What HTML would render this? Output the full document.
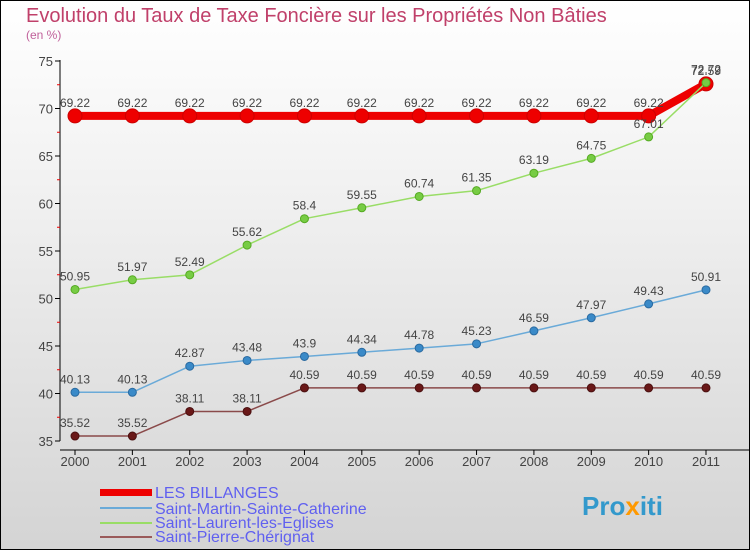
<!DOCTYPE html>
<html><head><meta charset="utf-8"><style>
body{margin:0}
#c{width:750px;height:550px;position:relative;overflow:hidden;font-family:"Liberation Sans",sans-serif;background:linear-gradient(#ffffff,#f3f3f3 30%,#d4d4d4);box-sizing:border-box;border:1px solid #000}
</style></head><body>
<div id="c">
<svg width="750" height="550" style="position:absolute;left:-1px;top:-1px" id="svg">
<text x="26" y="22" font-size="20" fill="#c0406a">Evolution du Taux de Taxe Foncière sur les Propriétés Non Bâties</text>
<text x="26" y="39" font-size="12" fill="#c0609a">(en %)</text>
<line x1="60" y1="60" x2="60" y2="441" stroke="#000"/>
<line x1="60" y1="450" x2="750" y2="450" stroke="#000"/>
<g id="axes"></g><g id="series"></g>
<g font-size="16" fill="#6060f0">
<rect x="100" y="489" width="52" height="7" fill="#e00"/>
<text x="155" y="498">LES BILLANGES</text>
<line x1="100" y1="508" x2="152" y2="508" stroke="#6aaad8" stroke-width="2"/>
<text x="155" y="514">Saint-Martin-Sainte-Catherine</text>
<line x1="100" y1="523" x2="152" y2="523" stroke="#99dd66" stroke-width="2"/>
<text x="155" y="528">Saint-Laurent-les-Eglises</text>
<line x1="100" y1="537" x2="152" y2="537" stroke="#9a5a5a" stroke-width="2"/>
<text x="155" y="542">Saint-Pierre-Chérignat</text>
</g>
<text x="582" y="515" font-size="26" font-weight="bold" fill="#3399cc">Pro<tspan fill="#ff9900">x</tspan>iti</text>
</svg>
</div>
<script>
const years=[2000,2001,2002,2003,2004,2005,2006,2007,2008,2009,2010,2011];
const billanges=[69.22,69.22,69.22,69.22,69.22,69.22,69.22,69.22,69.22,69.22,69.22,72.59];
const stMartin=[40.13,40.13,42.87,43.48,43.9,44.34,44.78,45.23,46.59,47.97,49.43,50.91];
const stLaurent=[50.95,51.97,52.49,55.62,58.4,59.55,60.74,61.35,63.19,64.75,67.01,72.72];
const stPierre=[35.52,35.52,38.11,38.11,40.59,40.59,40.59,40.59,40.59,40.59,40.59,40.59];
const yTicks=[35,40,45,50,55,60,65,70,75];
const NS='http://www.w3.org/2000/svg';
const x=i=>75+i*(631/(years.length-1));
const y=v=>61+(75-v)*9.5;
function mk(t,a,p){const e=document.createElementNS(NS,t);for(const k in a)e.setAttribute(k,a[k]);p.appendChild(e);return e;}
const ax=document.getElementById('axes');
yTicks.forEach(v=>{
 const l=mk('line',{x1:55,x2:60,y1:y(v),y2:y(v),stroke:'#000'},ax);
 
 
 const t=mk('text',{x:53,y:y(v)+5,'font-size':13,fill:'#444','text-anchor':'end'},ax);t.textContent=v;
 
 
 if(v<75){const m=mk('line',{x1:57,x2:60,y1:y(v+2.5),y2:y(v+2.5),stroke:'#e00'},ax);
 
 }
});
years.forEach((yr,i)=>{
 const l=mk('line',{x1:x(i),x2:x(i),y1:450,y2:455,stroke:'#000'},ax);
 
 
 const t=mk('text',{x:x(i),y:466,'font-size':13,fill:'#444','text-anchor':'middle'},ax);t.textContent=yr;
 
 
});
const sg=document.getElementById('series');
function series(name,vals,color,w,r,dot,dotStroke){
 const g=mk('g',{},sg);
 
 
 const p=mk('polyline',{points:vals.map((v,i)=>x(i)+','+y(v)).join(' '),fill:'none',stroke:color,'stroke-width':w,'stroke-linejoin':'round'},g);
 
 
 vals.forEach((v,i)=>{
  const c=mk('circle',{cx:x(i),cy:y(v),r:r,fill:dot,stroke:dotStroke,'stroke-width':1},g);
  
  
  const t=mk('text',{x:x(i),y:y(v)-9,'font-size':12,fill:'#444','text-anchor':'middle'},g);t.textContent=v;
  
  
 });
}
series('series-saint-pierre',stPierre,'#8a4a4a',1.5,4,'#6a1818','#4a1010');
series('series-saint-martin',stMartin,'#6aaad8',1.5,4,'#3a8ac8','#2a6aa0');
series('series-les-billanges',billanges,'#e00',8,7,'#e00','#c00');
series('series-saint-laurent',stLaurent,'#99dd66',1.5,4,'#77cc44','#55aa22');
</script>
</body></html>
